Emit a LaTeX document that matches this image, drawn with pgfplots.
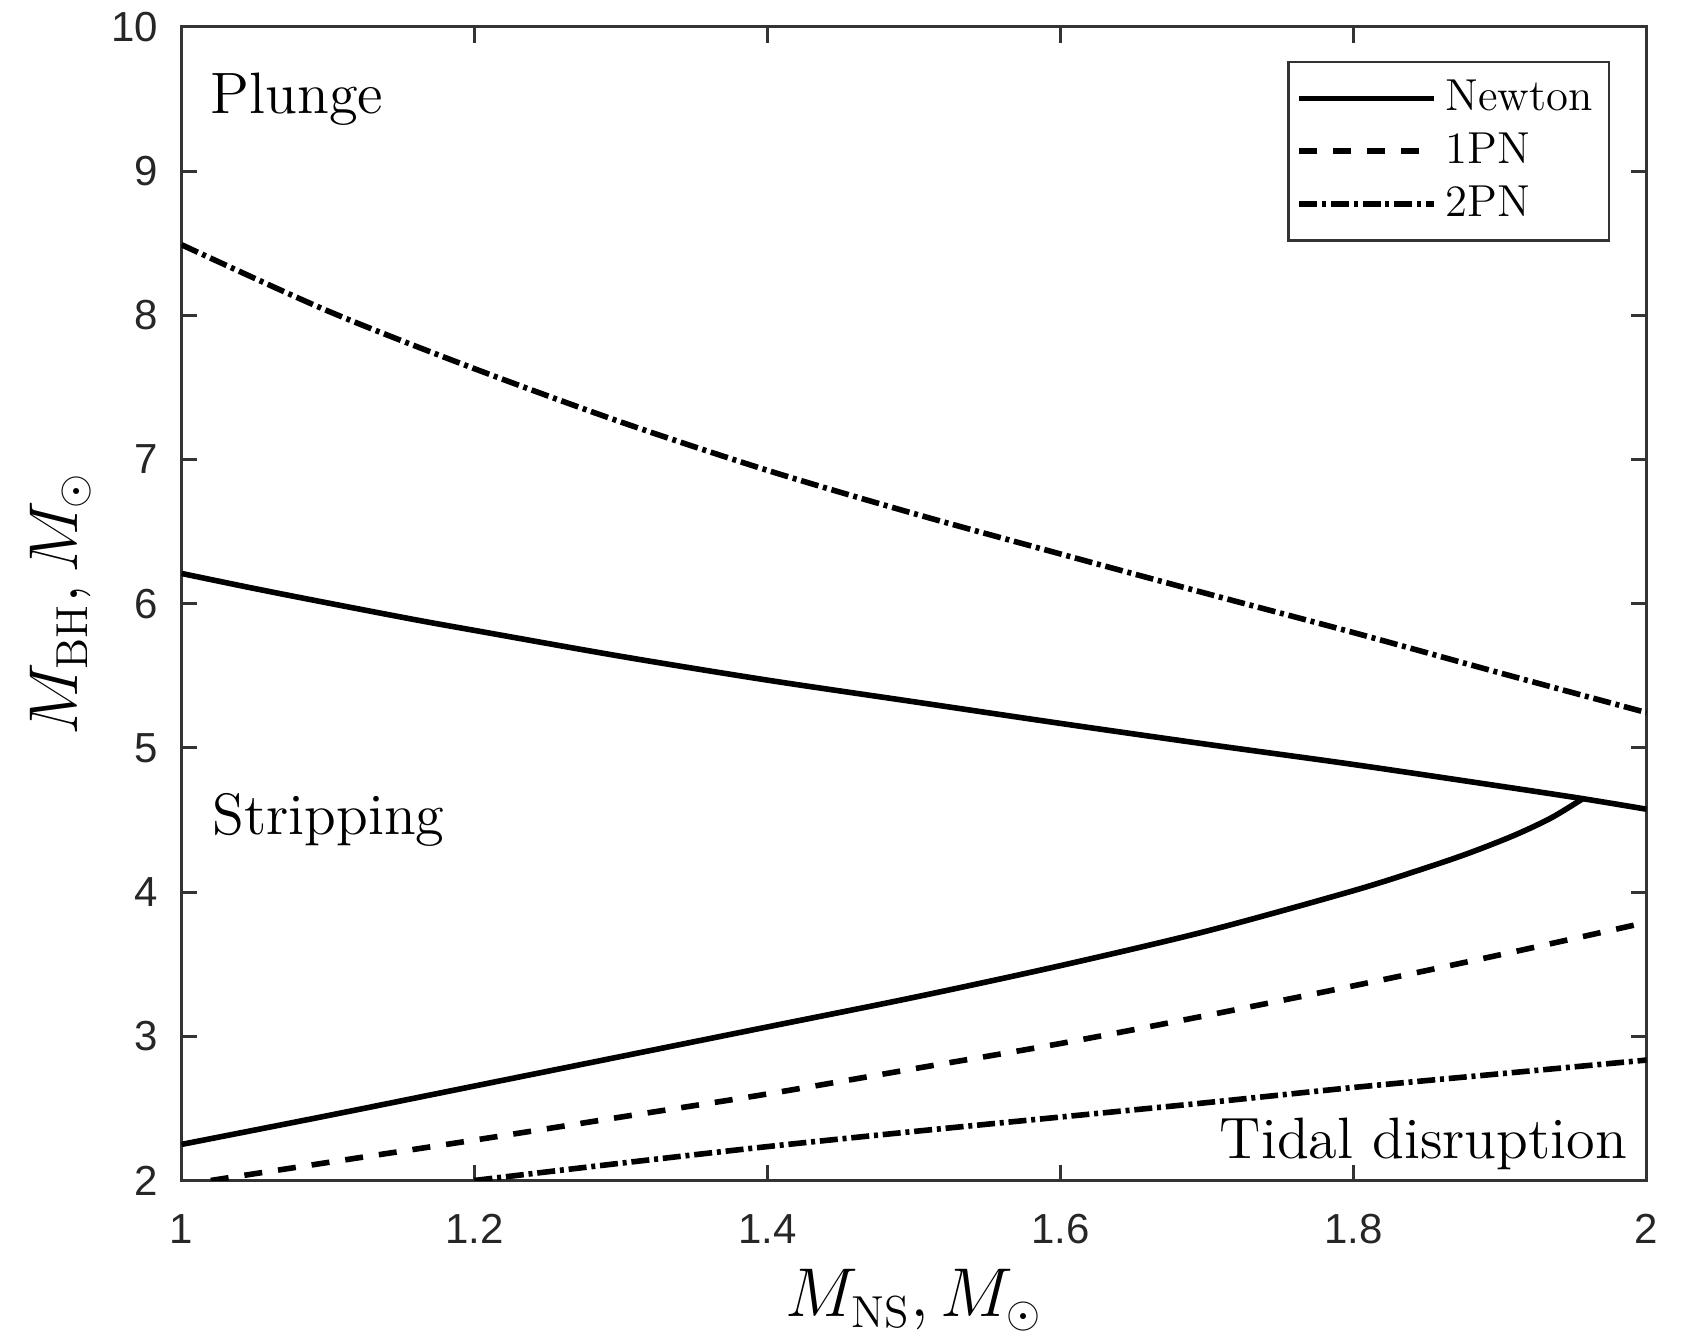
\documentclass[border=0pt]{standalone}
\usepackage{pgfplots}
\pgfplotsset{compat=1.18}
\usepackage{fontspec}
\newfontfamily\helv{Liberation Sans}
\begin{document}
\begin{tikzpicture}
\begin{axis}[
  name=ax,
  scale only axis,
  width=366.25pt, height=288.375pt,
  xmin=1, xmax=2, ymin=2, ymax=10,
  xtick={1,1.2,1.4,1.6,1.8,2},
  ytick={2,3,4,5,6,7,8,9,10},
  tick align=inside,
  major tick length=3.9pt,
  axis line style={black!80, line width=0.75pt},
  every tick/.style={black!80, line width=0.75pt},
  tick label style={font=\helv\fontsize{10.5}{12}\selectfont, text=black!85},
  /pgf/number format/assume math mode=true,
  xticklabel style={yshift=-5pt},
  yticklabel style={xshift=-2.4pt},
  xlabel={$M_{\mathrm{NS}}, M_\odot$},
  ylabel={$M_{\mathrm{BH}}, M_\odot$},
  label style={font=\fontsize{16}{19}\selectfont},
  xlabel style={at={(axis description cs:0.5,-0.1183)}, anchor=base},
  ylabel style={at={(axis description cs:-0.0713,0.5)}, anchor=base},
  legend cell align=left,
  legend style={at={(rel axis cs:0.975,0.9708)}, anchor=north east, draw=black!80, line width=0.6pt,
    font=\fontsize{11.2}{13}\selectfont, inner xsep=2pt, inner ysep=2.6pt, row sep=0pt},
  legend image code/.code={\draw[#1] (0pt,0pt) -- (33.75pt,0pt);},
]
\addplot[black, line width=1.4pt, smooth] coordinates {
(1.0,6.21) (1.05,6.105) (1.1,6.005) (1.159,5.89) (1.2,5.815) (1.3,5.635) (1.4,5.47) (1.5,5.32) (1.6,5.17) (1.7,5.025) (1.8,4.885) (1.9,4.735) (1.9565,4.648) (2.0,4.575)
};
\addlegendentry{Newton}
\addplot[black, line width=1.4pt, smooth, dash pattern=on 4.5pt off 4pt] coordinates {
(1.02,2.0) (1.1,2.125) (1.2,2.28) (1.3,2.44) (1.4,2.60) (1.5,2.775) (1.6,2.95) (1.7,3.145) (1.8,3.35) (1.9,3.565) (2.0,3.79)
};
\addlegendentry{1PN}
\addplot[black, line width=1.4pt, smooth, dash pattern=on 4.5pt off 1.2pt on 1pt off 1.2pt] coordinates {
(1.0,8.49) (1.1,8.03) (1.2,7.63) (1.3,7.26) (1.4,6.925) (1.5,6.625) (1.6,6.345) (1.7,6.07) (1.8,5.80) (1.9,5.52) (2.0,5.245)
};
\addlegendentry{2PN}
\addplot[black, line width=1.4pt, smooth, forget plot] coordinates {
(1.0,2.25) (1.1,2.45) (1.2,2.655) (1.3,2.86) (1.4,3.065) (1.5,3.27) (1.6,3.49) (1.7,3.73) (1.8,4.01) (1.85,4.17) (1.88,4.275) (1.91,4.395) (1.935,4.515) (1.9565,4.648)
};
\addplot[black, line width=1.4pt, smooth, forget plot, dash pattern=on 4.5pt off 1.2pt on 1pt off 1.2pt] coordinates {
(1.2,2.0) (1.3,2.12) (1.4,2.235) (1.5,2.34) (1.6,2.44) (1.7,2.54) (1.8,2.645) (1.9,2.74) (2.0,2.835)
};
\node[anchor=base west, font=\fontsize{14.6}{17}\selectfont, inner sep=0pt] at (axis cs:1.0195,9.40) {Plunge};
\node[anchor=base west, font=\fontsize{14.6}{17}\selectfont, inner sep=0pt] at (axis cs:1.0206,4.40) {Stripping};
\node[anchor=base east, font=\fontsize{14.6}{17}\selectfont, inner sep=0pt] at (axis cs:1.9872,2.153) {Tidal disruption};
\end{axis}
\pgfresetboundingbox
\path[use as bounding box] ([shift={(-45.375pt,-39.875pt)}]ax.south west) rectangle ([shift={(10.875pt,6.75pt)}]ax.north east);
\end{tikzpicture}
\end{document}
